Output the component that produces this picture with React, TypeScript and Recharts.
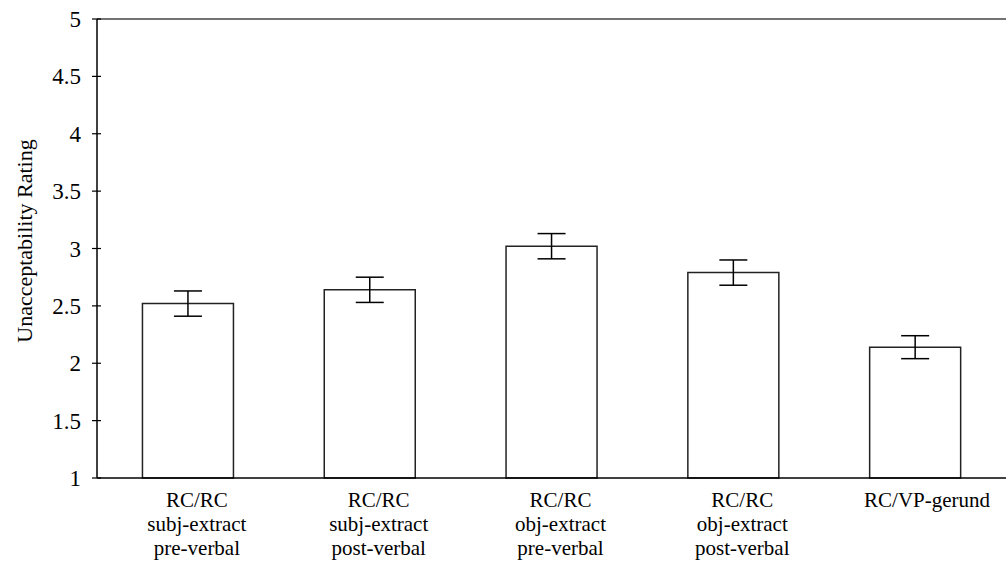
import React from "react";
import {
  BarChart,
  Bar,
  XAxis,
  YAxis,
  ErrorBar,
  ReferenceLine,
  Label,
} from "recharts";

const categories = [
  ["RC/RC", "subj-extract", "pre-verbal"],
  ["RC/RC", "subj-extract", "post-verbal"],
  ["RC/RC", "obj-extract", "pre-verbal"],
  ["RC/RC", "obj-extract", "post-verbal"],
  ["RC/VP-gerund"],
];
const ratings = [2.52, 2.64, 3.02, 2.79, 2.14];
const errors = [0.11, 0.11, 0.11, 0.11, 0.1];
const yTicks = [1, 1.5, 2, 2.5, 3, 3.5, 4, 4.5, 5];

const FONT = "'Liberation Serif', 'Times New Roman', serif";

const data = categories.map((lines, i) => ({
  name: lines.join(" "),
  lines,
  rating: ratings[i],
  err: errors[i],
}));

// category labels sit a little right of the bar centres in the original
const XTick = (props: any) => {
  const { x, y, index } = props;
  const lines = data[index]?.lines ?? [];
  const shift = lines.length === 1 ? 12 : 9;
  return (
    <text
      x={x + shift}
      y={y + 29}
      textAnchor="middle"
      fontFamily={FONT}
      fontSize={21}
      fill="#000"
    >
      {lines.map((l: string, i: number) => (
        <tspan key={i} x={x + shift} dy={i === 0 ? 0 : 24}>
          {l}
        </tspan>
      ))}
    </text>
  );
};

const YTick = (props: any) => {
  const { x, y, payload } = props;
  return (
    <g>
      <line x1={x + 11} x2={x + 20} y1={y} y2={y} stroke="#000" strokeWidth={1.2} />
      <text
        x={x}
        y={y}
        dy="0.35em"
        textAnchor="end"
        fontFamily={FONT}
        fontSize={23}
        fill="#000"
      >
        {payload.value}
      </text>
    </g>
  );
};

export default function App() {
  return (
    <div style={{ position: "absolute", left: 0, top: 0, background: "#fff" }}>
      <BarChart
        width={1006}
        height={565}
        data={data}
        margin={{ top: 19, right: 0, bottom: 0, left: 0 }}
        barCategoryGap="25%"
      >
        <XAxis
          dataKey="name"
          height={87}
          axisLine={{ stroke: "#000", strokeWidth: 1.5 }}
          tickLine={false}
          tickSize={0}
          tickMargin={0}
          tick={<XTick />}
          interval={0}
        />
        <YAxis
          width={97}
          domain={[1, 5]}
          ticks={yTicks}
          axisLine={{ stroke: "#000", strokeWidth: 1.5 }}
          tickLine={false}
          tickSize={5}
          tickMargin={11}
          tick={<YTick />}
          interval={0}
        >
          <Label
            content={() => (
              <text
                transform="translate(24,241) rotate(-90)"
                textAnchor="middle"
                dominantBaseline="central"
                fontFamily={FONT}
                fontSize={22}
                fill="#000"
              >
                Unacceptability Rating
              </text>
            )}
          />
        </YAxis>
        <ReferenceLine y={5} stroke="#444" strokeWidth={1.5} />
        <Bar
          dataKey="rating"
          fill="#fff"
          stroke="#222"
          strokeWidth={1.5}
          isAnimationActive={false}
        >
          <ErrorBar dataKey="err" width={14} stroke="#000" strokeWidth={1.5} />
        </Bar>
      </BarChart>
    </div>
  );
}
